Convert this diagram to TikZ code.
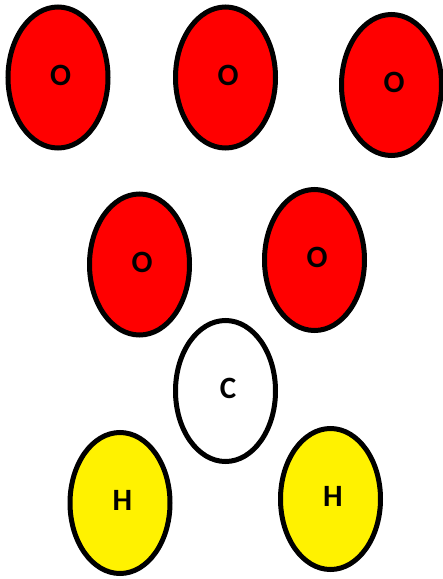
\documentclass[tikz,border=0pt]{standalone}
\usepackage{fontspec}
\setsansfont{Carlito}
\usetikzlibrary{shapes.geometric}

\begin{document}
\begin{tikzpicture}[x=1pt,y=-1pt,font=\sffamily\bfseries\fontsize{31}{34}\selectfont]

	\tikzstyle{atom}=[draw=black,ellipse,line width=5pt,minimum width=100pt,minimum height=141pt,inner sep=0pt]
	\tikzstyle{atomlbl}=[inner sep=0pt,text=black]

	\useasboundingbox (0,0) rectangle (443,579);

	% oxygen, carbon and hydrogen atoms: name / x / y / fill / label
	\foreach \n / \x / \y / \c / \t in {o1/58/77.5/red/O,o2/225.5/77.5/red/O,o3/391.5/85/red/O,o4/139.5/264.5/red/O,o5/314.5/260/red/O,c1/225.5/391/white/C,h1/120/503/yellow/H,h2/330.5/499/yellow/H}{
		\node[atom,fill=\c] (\n) at (\x,\y) {};
		\node[atomlbl] (\n-lbl) at ([shift={(2.5,-2.5)}]\n.center) {\t};
	}
\end{tikzpicture}
\end{document}
